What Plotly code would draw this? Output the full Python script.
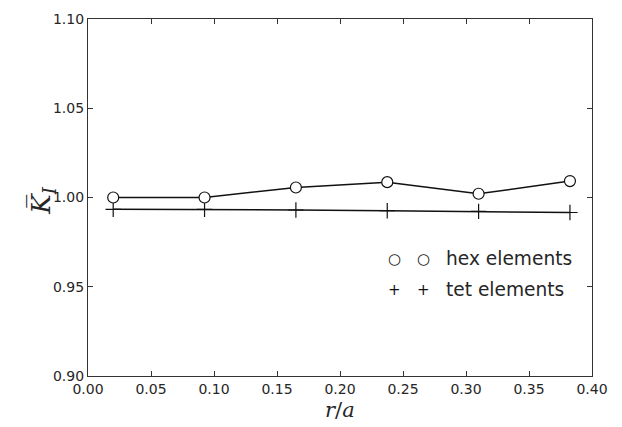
import plotly.graph_objects as go

r_over_a = [0.02, 0.0925, 0.165, 0.2375, 0.31, 0.3825]
hex_vals = [1.0000, 1.0000, 1.0056, 1.0086, 1.0021, 1.0092]
tet_vals = [0.9934, 0.9934, 0.9930, 0.9926, 0.9922, 0.9916]
x_ticks = [0.00, 0.05, 0.10, 0.15, 0.20, 0.25, 0.30, 0.35, 0.40]
y_ticks = [0.90, 0.95, 1.00, 1.05, 1.10]
legend_labels = ["hex elements", "tet elements"]

fig = go.Figure()
fig.add_trace(go.Scatter(
    x=r_over_a, y=tet_vals, mode="lines+markers",
    line=dict(color="#111111", width=1.5),
    marker=dict(symbol="cross-thin", size=11, line=dict(color="#111111", width=1.2)),
    showlegend=False))
fig.add_trace(go.Scatter(
    x=r_over_a, y=hex_vals, mode="lines+markers",
    line=dict(color="#111111", width=1.5),
    marker=dict(symbol="circle", size=11, color="white", line=dict(color="#111111", width=1.2)),
    showlegend=False))

axis_common = dict(
    showline=True, linecolor="#333333", linewidth=1.2, mirror="ticks",
    ticks="inside", ticklen=5, tickwidth=1, tickcolor="#333333",
    showgrid=False, zeroline=False, automargin=False,
    tickfont=dict(family="DejaVu Sans", size=14, color="#262626"),
)
fig.update_xaxes(range=[0, 0.40], tickvals=x_ticks,
                 ticktext=[f"{v:.2f}" for v in x_ticks], **axis_common)
fig.update_yaxes(range=[0.90, 1.10], tickvals=y_ticks,
                 ticktext=[f"{v:.2f}" for v in y_ticks], **axis_common)

# x-axis label
fig.add_annotation(xref="paper", yref="paper", x=0.5, y=-0.095, yanchor="middle",
                   text="<i>r</i>/<i>a</i>", showarrow=False,
                   font=dict(family="DejaVu Serif", size=21, color="#262626"))
# y-axis label
fig.add_annotation(xref="paper", yref="paper", x=-0.09, y=0.49, xanchor="center",
                   yanchor="middle",
                   text="<i>K\u0305</i><sub><i>I</i></sub>", showarrow=False, textangle=-90,
                   font=dict(family="DejaVu Serif", size=26, color="#262626"))

# legend (manual)
leg_font = dict(family="DejaVu Sans", size=18.6, color="#262626")
mk_font = dict(family="DejaVu Sans", size=15, color="#111111")
for yy, sym, lab in [(0.328, "\u25cb", legend_labels[0]), (0.241, "+", legend_labels[1])]:
    for xx in (0.609, 0.665):
        fig.add_annotation(xref="paper", yref="paper", x=xx, y=yy, xanchor="center",
                           yanchor="middle", text=sym, showarrow=False, font=mk_font)
    fig.add_annotation(xref="paper", yref="paper", x=0.706, y=yy, xanchor="left",
                       yanchor="middle", text=lab, showarrow=False, font=leg_font)

fig.update_layout(
    width=614, height=419,
    margin=dict(l=80, r=30, t=11, b=51, autoexpand=False),
    paper_bgcolor="white", plot_bgcolor="white",
    showlegend=False,
)
fig.write_html("out.html")
